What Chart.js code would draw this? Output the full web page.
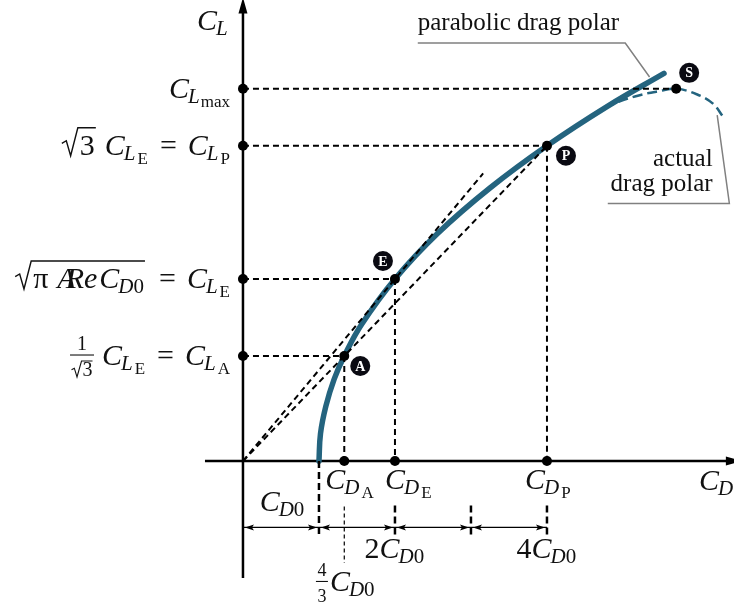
<!DOCTYPE html>
<html>
<head>
<meta charset="utf-8">
<script src="https://cdn.jsdelivr.net/npm/chart.js@4.4.0/dist/chart.umd.min.js"></script>
<style>
  html, body { margin: 0; padding: 0; background: #fff; }
  canvas { display: block; }
</style>
</head>
<body>
<canvas id="polar" width="734" height="603"></canvas>
<script>
// CD in units of CD0, CL in units of CL_E
const polarCL = [0, 0.15, 0.3, 0.45, 0.577, 0.75, 1.0, 1.25, 1.5, 1.732, 1.95, 2.13];
const polarCD = [1.0, 1.02, 1.09, 1.2, 1.333, 1.56, 2.0, 2.56, 3.25, 4.0, 4.8, 5.54];

const actualCD = [4.76, 4.95, 5.22, 5.45, 5.70, 5.97, 6.18, 6.32];
const actualCL = [1.94, 1.975, 2.01, 2.03, 2.045, 2.015, 1.965, 1.89];

// A = best range, E = max L/D, P = best endurance, S = stall
const pointNames = ['A', 'E', 'P', 'S'];
const pointCD = [1.333, 2.0, 4.0, 5.70];
const pointCL = [0.577, 1.0, 1.732, 2.045];

const tangentCD = [0, 3.16];
const tangentCL = [0, 1.58];

// dimension marks under the CD axis (multiples of CD0)
const dimMarks = [0, 1, 2, 3, 4];

const SERIF = '"Liberation Serif", "DejaVu Serif", serif';
const TEAL = '#24647f';
const I30 = `italic 30px ${SERIF}`;
const I21 = `italic 21px ${SERIF}`;
const R30 = `30px ${SERIF}`;
const R21 = `21px ${SERIF}`;
const R17 = `17px ${SERIF}`;

const seg = (x0, y0, x1, y1) => [{ x: x0, y: y0 }, { x: x1, y: y1 }];
const lineSet = (data, color, width, dash, order) => ({
  data, borderColor: color, borderWidth: width, borderDash: dash || [],
  showLine: true, pointRadius: 0, fill: false, tension: 0, order
});

const datasets = [];

// axes
datasets.push(lineSet(seg(-0.5, 0, 6.38, 0), '#000', 2.5, null, 4));
datasets.push(lineSet(seg(0, -0.643, 0, 2.47), '#000', 2.5, null, 4));

// drag polars
datasets.push({
  data: polarCD.map((x, i) => ({ x, y: polarCL[i] })),
  borderColor: TEAL, borderWidth: 5.5, borderCapStyle: 'round',
  showLine: true, pointRadius: 0, fill: false, tension: 0.4, order: 3
});
datasets.push({
  data: actualCD.map((x, i) => ({ x, y: actualCL[i] })),
  borderColor: TEAL, borderWidth: 2.5, borderDash: [10, 5],
  showLine: true, pointRadius: 0, fill: false, tension: 0.4, order: 2
});

// guides to the axes
pointCD.forEach((cd, i) => {
  datasets.push(lineSet(seg(0, pointCL[i], cd, pointCL[i]), '#000', 2, [6, 4], 1));
  if (pointNames[i] !== 'S') datasets.push(lineSet(seg(cd, pointCL[i], cd, 0), '#000', 2, [6, 4], 1));
});
datasets.push(lineSet(seg(tangentCD[0], tangentCL[0], tangentCD[1], tangentCL[1]), '#000', 2, [6, 4], 1));
datasets.push(lineSet(seg(0, 0, pointCD[2], pointCL[2]), '#000', 2, [6, 4], 1));

// dimension lines
const dimY = -0.365;
for (let i = 0; i < dimMarks.length - 1; i++) {
  datasets.push(lineSet(seg(dimMarks[i], dimY, dimMarks[i + 1], dimY), '#000', 1.2, null, 1));
}
datasets.push(lineSet(seg(dimMarks[1], 0, dimMarks[1], -0.41), '#000', 2.5, [7, 4], 1));
dimMarks.slice(2).forEach(m => datasets.push(lineSet(seg(m, -0.245, m, -0.41), '#000', 2.5, [7, 4], 1)));
datasets.push(lineSet(seg(pointCD[0], -0.25, pointCD[0], -0.56), '#000', 1.2, [4, 3], 1));

// dots
const dots = [];
pointCD.forEach((cd, i) => {
  dots.push({ x: 0, y: pointCL[i] }, { x: cd, y: pointCL[i] });
  if (pointNames[i] !== 'S') dots.push({ x: cd, y: 0 });
});
datasets.push({ data: dots, pointRadius: 5, pointBackgroundColor: '#000', pointBorderWidth: 0, showLine: false, order: 0 });

// --- small math typesetting -------------------------------------------
function layout(ctx, runs) {
  let x = 0, open = null;
  const placed = [], rads = [];
  for (const r of runs) {
    x += r.gap || 0;
    if (r.open) { open = { x0: x, h: r.h, w: r.w }; x += r.w + 1; continue; }
    if (r.close) { open.x1 = x + 1; rads.push(open); x += 3; continue; }
    if (r.frac) {
      ctx.font = r.f;
      const dw = ctx.measureText(r.den).width + (r.rootDen ? 11 : 0);
      const w = Math.max(ctx.measureText(r.num).width, dw) + 3;
      placed.push({ r, x, w, dw });
      x += w;
      continue;
    }
    ctx.font = r.f;
    placed.push({ r, x });
    x += ctx.measureText(r.t).width;
  }
  return { placed, rads, width: x };
}

function radical(ctx, x0, x1, y, h, w) {
  ctx.beginPath();
  ctx.moveTo(x0, y - h * 0.42);
  ctx.lineTo(x0 + w * 0.28, y - h * 0.52);
  ctx.lineTo(x0 + w * 0.55, y + 1);
  ctx.lineTo(x0 + w, y - h);
  ctx.lineTo(x1, y - h);
  ctx.stroke();
}

function drawRuns(ctx, runs, x, y, align) {
  const lay = layout(ctx, runs);
  const x0 = align === 'right' ? x - lay.width : x;
  ctx.save();
  ctx.fillStyle = '#111';
  ctx.strokeStyle = '#111';
  ctx.lineWidth = 1.3;
  ctx.textAlign = 'left';
  ctx.textBaseline = 'alphabetic';
  for (const p of lay.placed) {
    const r = p.r;
    ctx.font = r.f;
    if (r.frac) {
      const cx = x0 + p.x + p.w / 2;
      ctx.textAlign = 'center';
      ctx.fillText(r.num, cx, y - 15);
      ctx.textAlign = 'left';
      ctx.lineWidth = 1.1;
      ctx.beginPath();
      ctx.moveTo(x0 + p.x, y - 10);
      ctx.lineTo(x0 + p.x + p.w, y - 10);
      ctx.stroke();
      let dx = cx - p.dw / 2;
      if (r.rootDen) {
        const tw = ctx.measureText(r.den).width;
        radical(ctx, dx, dx + 11 + tw, y + 11, 15, 10);
        dx += 11;
      }
      ctx.fillText(r.den, dx, y + 11);
      continue;
    }
    ctx.fillText(r.t, x0 + p.x, y + (r.dy || 0));
  }
  ctx.lineWidth = 1.4;
  for (const rd of lay.rads) radical(ctx, x0 + rd.x0, x0 + rd.x1, y, rd.h, rd.w);
  ctx.restore();
}

const C = { t: 'C', f: I30 };
const sub = (t, gap) => ({ t, f: I21, dy: 5, gap: gap === undefined ? -1 : gap });
const sub2 = t => ({ t, f: R17, dy: 9, gap: 2 });
const zero = { t: '0', f: R21, dy: 5 };
const eq = [{ t: '=', f: R30, gap: 12 }, { t: 'C', f: I30, gap: 11 }];

const leftLabels = [
  [{ frac: true, num: '1', den: '3', rootDen: true, f: `20px ${SERIF}` }, { ...C, gap: 8 }, sub('L'), sub2('E'), ...eq, sub('L'), sub2('A')],
  [{ open: true, w: 16, h: 27 }, { t: 'π', f: R30, gap: 1 }, { t: 'A', f: I30, gap: 9 }, { t: 'R', f: I30, gap: -10 }, { t: 'e', f: I30 },
    { t: 'C', f: I30, gap: 2 }, sub('D'), zero, { close: true }, ...eq, sub('L'), sub2('E')],
  [{ open: true, w: 16, h: 27 }, { t: '3', f: R30, gap: 1 }, { close: true }, { ...C, gap: 7 }, sub('L'), sub2('E'), ...eq, sub('L'), sub2('P')],
  [C, sub('L'), { t: 'max', f: R17, dy: 9, gap: 1 }]
];

const drawing = {
  id: 'drawing',
  afterDatasetsDraw(chart) {
    const ctx = chart.ctx;
    const X = v => chart.scales.x.getPixelForValue(v);
    const Y = v => chart.scales.y.getPixelForValue(v);

    // axis arrowheads
    ctx.save();
    ctx.fillStyle = '#000';
    ctx.beginPath();
    ctx.moveTo(X(0), Y(2.47) - 14); ctx.lineTo(X(0) - 4.5, Y(2.47) + 2); ctx.lineTo(X(0) + 4.5, Y(2.47) + 2);
    ctx.fill();
    ctx.beginPath();
    ctx.moveTo(X(6.38) + 14, Y(0)); ctx.lineTo(X(6.38) - 2, Y(0) - 4.5); ctx.lineTo(X(6.38) - 2, Y(0) + 4.5);
    ctx.fill();

    // dimension arrowheads
    const ay = Y(dimY);
    const head = (x, dir) => {
      ctx.beginPath();
      ctx.moveTo(x, ay); ctx.lineTo(x - dir * 9, ay - 3); ctx.lineTo(x - dir * 7, ay); ctx.lineTo(x - dir * 9, ay + 3);
      ctx.fill();
    };
    for (let i = 0; i < dimMarks.length - 1; i++) {
      head(X(dimMarks[i]) + 2, -1);
      head(X(dimMarks[i + 1]) - 2, 1);
    }

    // callout leaders
    ctx.strokeStyle = '#808080';
    ctx.lineWidth = 1.5;
    ctx.beginPath();
    ctx.moveTo(X(2.3), Y(2.297)); ctx.lineTo(X(5.03), Y(2.297)); ctx.lineTo(X(5.35), Y(2.11));
    ctx.stroke();
    ctx.beginPath();
    ctx.moveTo(X(4.8), Y(1.415)); ctx.lineTo(X(6.4), Y(1.415)); ctx.lineTo(X(6.24), Y(1.9));
    ctx.stroke();

    // lettered badges
    const badgeOffset = [[16, 10], [-12, -18], [19, 10], [13, -16]];
    pointNames.forEach((n, i) => {
      const bx = X(pointCD[i]) + badgeOffset[i][0];
      const by = Y(pointCL[i]) + badgeOffset[i][1];
      ctx.fillStyle = '#0a0a12';
      ctx.beginPath(); ctx.arc(bx, by, 10, 0, Math.PI * 2); ctx.fill();
      ctx.fillStyle = '#fff';
      ctx.font = `bold 14px ${SERIF}`;
      ctx.textAlign = 'center';
      ctx.textBaseline = 'middle';
      ctx.fillText(n, bx, by + 1);
    });

    // plain text callouts
    ctx.fillStyle = '#111';
    ctx.textBaseline = 'alphabetic';
    ctx.font = `25px ${SERIF}`;
    ctx.textAlign = 'left';
    ctx.fillText('parabolic drag polar', X(2.3), Y(2.37));
    ctx.textAlign = 'right';
    ctx.fillText('actual', X(6.18), Y(1.62));
    ctx.fillText('drag polar', X(6.18), Y(1.485));
    ctx.restore();

    // axis titles
    drawRuns(ctx, [C, sub('L')], X(0) - 46, Y(2.37), 'left');
    drawRuns(ctx, [C, sub('D')], X(6.0), Y(0) + 29, 'left');

    // CL levels
    pointCL.forEach((cl, i) => drawRuns(ctx, leftLabels[i], X(0) - 13, Y(cl) + 9, 'right'));

    // CD levels
    const cdShift = [-19, -10, -22];
    ['A', 'E', 'P'].forEach((n, i) => drawRuns(ctx, [C, sub('D'), sub2(n)], X(pointCD[i]) + cdShift[i], Y(0) + 28, 'left'));

    // dimension labels
    drawRuns(ctx, [C, sub('D'), zero], X(0.22), Y(dimY) - 16, 'left');
    drawRuns(ctx, [{ t: '2', f: R30 }, C, sub('D'), zero], X(1.6), Y(dimY) + 31, 'left');
    drawRuns(ctx, [{ t: '4', f: R30 }, C, sub('D'), zero], X(3.6), Y(dimY) + 31, 'left');
    drawRuns(ctx, [{ frac: true, num: '4', den: '3', f: `18px ${SERIF}` }, { ...C, gap: 2 }, sub('D'), zero], X(0.96), Y(dimY) + 64, 'left');
  }
};

new Chart(document.getElementById('polar'), {
  type: 'scatter',
  data: { datasets },
  options: {
    responsive: false,
    animation: false,
    events: [],
    layout: { padding: 0, autoPadding: false },
    plugins: { legend: { display: false }, tooltip: { enabled: false } },
    scales: {
      x: { type: 'linear', display: false, min: -3.197, max: 6.461 },
      y: { type: 'linear', display: false, min: -0.780, max: 2.533 }
    }
  },
  plugins: [drawing]
});
</script>
</body>
</html>
